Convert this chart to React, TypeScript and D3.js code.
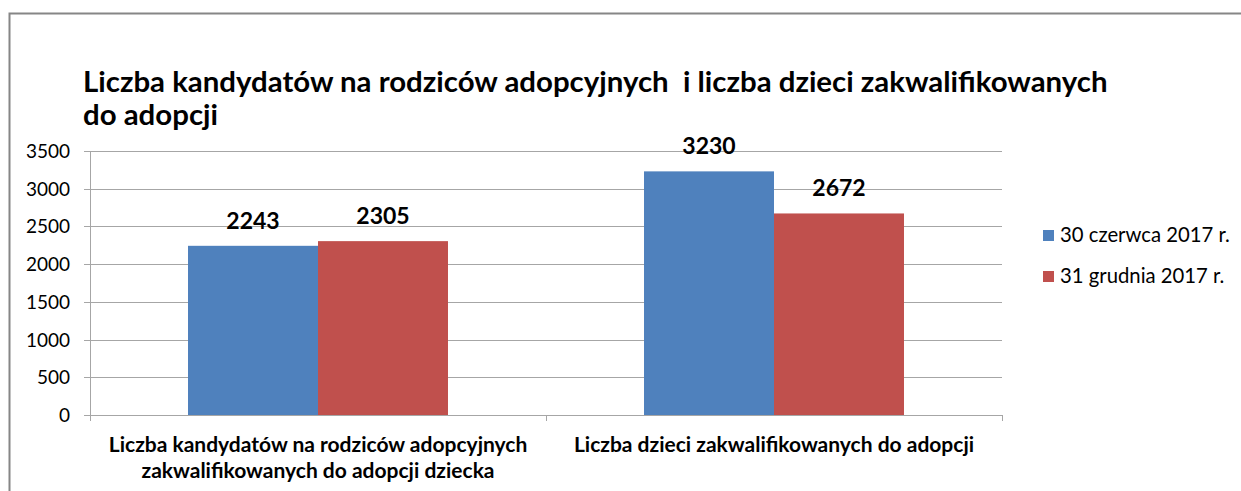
import React, { useEffect, useRef } from 'react';
import * as d3 from 'd3';

const categories = [
  ['Liczba kandydatów na rodziców adopcyjnych', 'zakwalifikowanych do adopcji dziecka'],
  ['Liczba dzieci zakwalifikowanych do adopcji'],
];
const seriesNames = ['30 czerwca 2017 r.', '31 grudnia 2017 r.'];
const june = [2243, 3230];
const december = [2305, 2672];
const yTicks = [0, 500, 1000, 1500, 2000, 2500, 3000, 3500];
const titleLines = [
  'Liczba kandydatów na rodziców adopcyjnych  i liczba dzieci zakwalifikowanych',
  'do adopcji',
];
const colors = ['#4F81BD', '#C0504D'];

const FONT = 'Lato, "Open Sans", sans-serif';

const App = () => {
  const ref = useRef<SVGSVGElement | null>(null);

  useEffect(() => {
    if (!ref.current) return;
    const svg = d3.select(ref.current);
    svg.selectAll('*').remove();

    const W = 1241;
    const H = 491;
    const plot = { left: 90, right: 1002, top: 151, bottom: 415 };

    svg.append('rect').attr('width', W).attr('height', H).attr('fill', 'white');

    // outer chart frame (only left and top visible)
    svg.append('path')
      .attr('d', `M9.5,${H + 5} V13.5 H${W + 5}`)
      .attr('fill', 'none')
      .attr('stroke', '#868686')
      .attr('stroke-width', 2);

    // title
    const title = svg.append('text')
      .attr('font-family', FONT)
      .attr('font-weight', 'bold')
      .attr('font-size', 29.4)
      .attr('fill', '#000')
      .style('white-space', 'pre');
    titleLines.forEach((t, i) => {
      title.append('tspan').attr('x', 83).attr('y', 92 + i * 33).text(t);
    });

    const y = d3.scaleLinear().domain([0, 3500]).range([plot.bottom, plot.top]);
    const x0 = d3.scaleBand<number>().domain(d3.range(categories.length)).range([plot.left, plot.right]);
    const x1 = d3.scaleBand<number>().domain([0, 1]).range([0, x0.bandwidth()]).paddingOuter(0.754).paddingInner(0);

    // gridlines
    svg.append('g')
      .selectAll('line')
      .data(yTicks)
      .join('line')
      .attr('x1', plot.left - 6)
      .attr('x2', plot.right)
      .attr('y1', d => Math.round(y(d)) + 0.5)
      .attr('y2', d => Math.round(y(d)) + 0.5)
      .attr('stroke', '#A6A6A6')
      .attr('stroke-width', 1);

    // y axis line
    svg.append('line')
      .attr('x1', plot.left + 0.5).attr('x2', plot.left + 0.5)
      .attr('y1', plot.top).attr('y2', plot.bottom + 6)
      .attr('stroke', '#A6A6A6');

    // x category ticks
    svg.append('g')
      .selectAll('line')
      .data(d3.range(categories.length + 1))
      .join('line')
      .attr('x1', d => Math.round(d < categories.length ? x0(d)! : plot.right) + 0.5)
      .attr('x2', d => Math.round(d < categories.length ? x0(d)! : plot.right) + 0.5)
      .attr('y1', plot.bottom)
      .attr('y2', plot.bottom + 6)
      .attr('stroke', '#A6A6A6');

    // y tick labels
    svg.append('g')
      .selectAll('text')
      .data(yTicks)
      .join('text')
      .attr('x', 70)
      .attr('y', d => y(d) + 7)
      .attr('text-anchor', 'end')
      .attr('font-family', FONT)
      .attr('font-size', 19)
      .attr('fill', '#000')
      .text(d => d);

    // bars
    const series = [june, december];
    series.forEach((vals, s) => {
      const g = svg.append('g');
      g.selectAll('rect')
        .data(vals)
        .join('rect')
        .attr('x', (d, i) => x0(i)! + x1(s)!)
        .attr('y', d => y(d))
        .attr('width', x1.bandwidth())
        .attr('height', d => plot.bottom - y(d))
        .attr('fill', colors[s]);
      g.selectAll('text')
        .data(vals)
        .join('text')
        .attr('x', (d, i) => x0(i)! + x1(s)! + x1.bandwidth() / 2)
        .attr('y', d => y(d) - 17)
        .attr('text-anchor', 'middle')
        .attr('font-family', FONT)
        .attr('font-weight', 'bold')
        .attr('font-size', 23)
        .attr('fill', '#000')
        .text(d => d);
    });

    // category labels
    categories.forEach((lines, i) => {
      const t = svg.append('text')
        .attr('text-anchor', 'middle')
        .attr('font-family', FONT)
        .attr('font-weight', 'bold')
        .attr('font-size', 21)
        .attr('fill', '#000');
      lines.forEach((l, j) => {
        t.append('tspan')
          .attr('x', x0(i)! + x0.bandwidth() / 2)
          .attr('y', 452 + j * 26)
          .text(l);
      });
    });

    // legend
    seriesNames.forEach((name, i) => {
      const ly = 235 + i * 41;
      svg.append('rect')
        .attr('x', 1043).attr('y', ly - 5)
        .attr('width', 11).attr('height', 11)
        .attr('fill', colors[i]);
      svg.append('text')
        .attr('x', 1060).attr('y', ly + 7)
        .attr('font-family', FONT)
        .attr('font-size', 20.3)
        .attr('fill', '#000')
        .text(name);
    });
  }, []);

  return (
    <div style={{ position: 'absolute', left: 0, top: 0 }}>
      <svg ref={ref} width={1241} height={491} style={{ display: 'block' }} />
    </div>
  );
};

export default App;
